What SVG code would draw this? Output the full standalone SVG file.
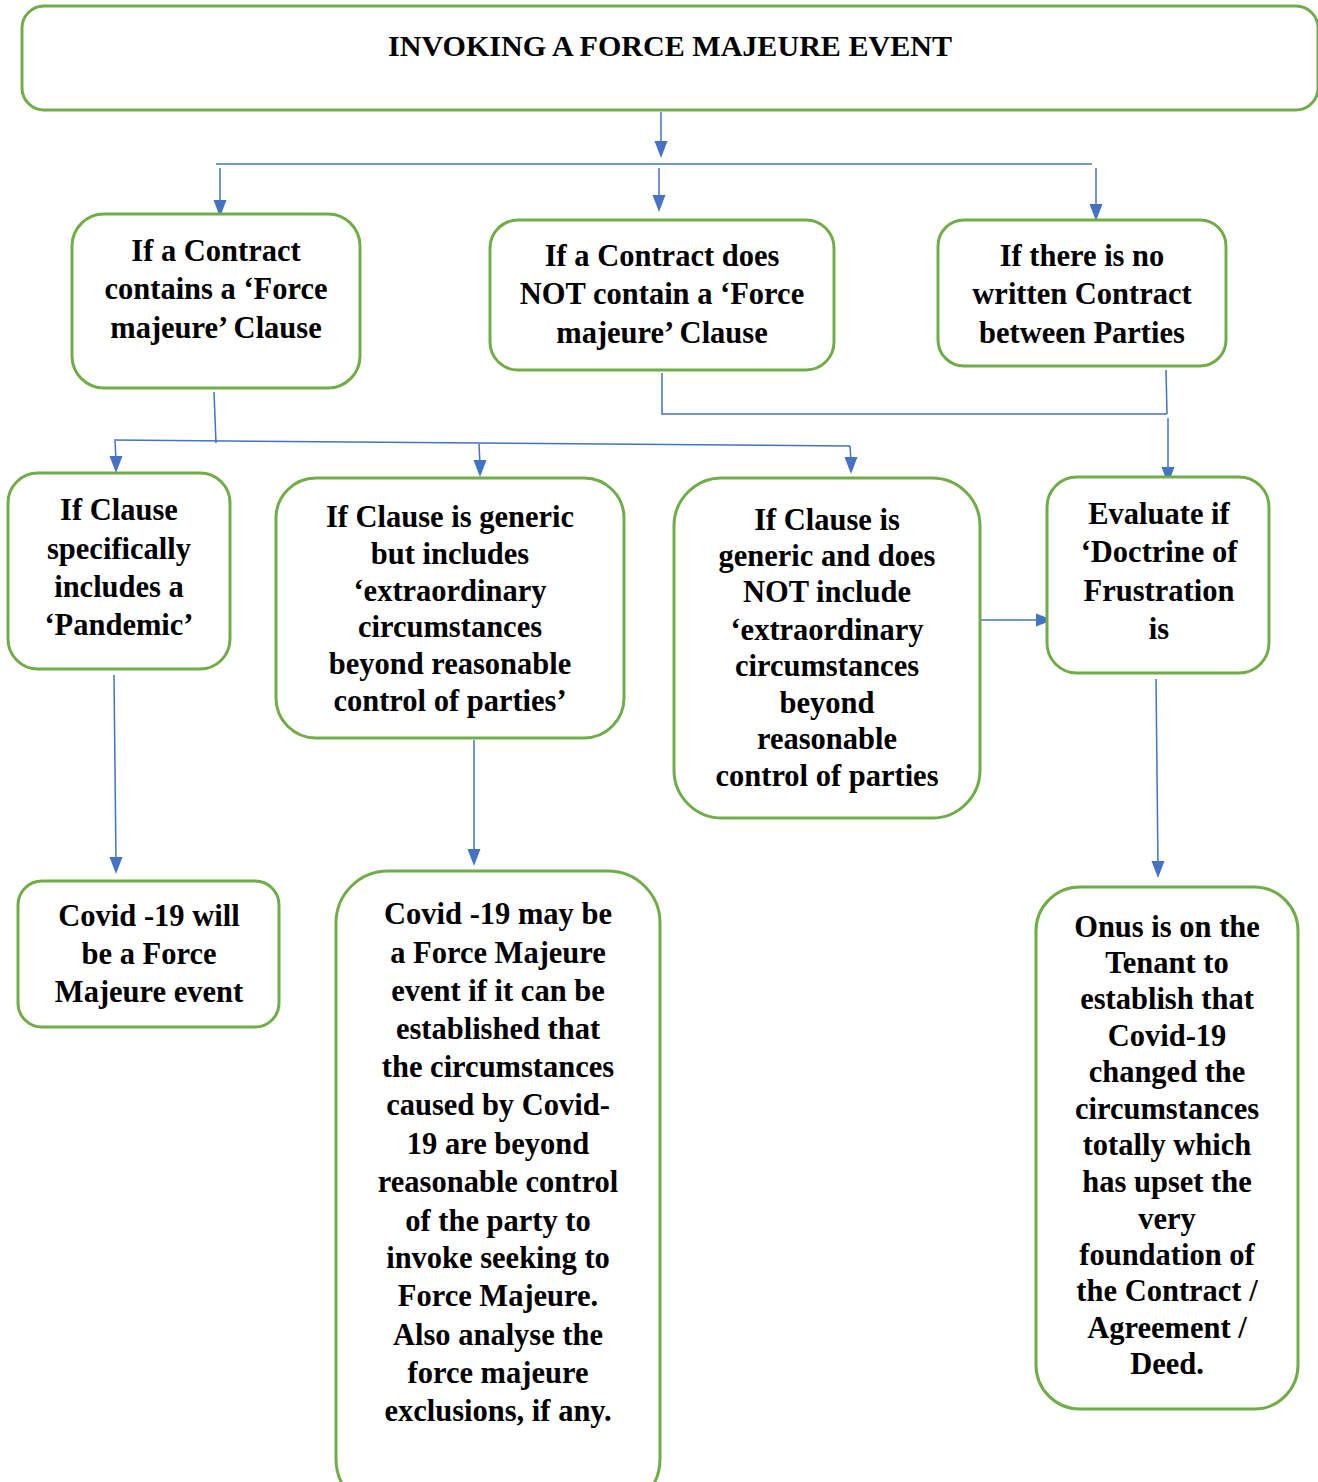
<svg xmlns="http://www.w3.org/2000/svg" xmlns:xlink="http://www.w3.org/1999/xlink" width="1318" height="1482" viewBox="0 0 1318 1482">
<defs>
<path id="hd" d="M-6.5,-17 L6.5,-17 L0,0 Z" fill="#4472C4"/>
<style>
.box{fill:#fff;stroke:#70AD47;stroke-width:3}
.t{font-family:"Liberation Serif","Times New Roman",serif;font-weight:bold;font-size:30.5px;fill:#000;text-anchor:middle}
.c{fill:none;stroke:#4472C4;stroke-width:1.5}
</style>
</defs>
<rect width="1318" height="1482" fill="#fff"/>
<g id="connectors">
<path class="c" d="M661,112 L661,145"/>
<path class="c" d="M216,164 L1092,164"/>
<path class="c" d="M220,168 L220,205"/>
<path class="c" d="M659,168 L659,200"/>
<path class="c" d="M1096,168 L1096,210"/>
<path class="c" d="M214,392 L216,443"/>
<path class="c" d="M114,440 L850,446"/>
<path class="c" d="M115,441 L116,460"/>
<path class="c" d="M479,444 L480,465"/>
<path class="c" d="M850,446 L851,462"/>
<path class="c" d="M662,373 L662,414 L1167,414"/>
<path class="c" d="M1166,370 L1167,414"/>
<path class="c" d="M1168,418 L1168,472"/>
<path class="c" d="M980,620 L1040,620"/>
<path class="c" d="M114,675 L116,862"/>
<path class="c" d="M474,740 L474,854"/>
<path class="c" d="M1156,679 L1158,866"/>
<use xlink:href="#hd" x="661" y="158"/>
<use xlink:href="#hd" x="220" y="217"/>
<use xlink:href="#hd" x="659" y="212"/>
<use xlink:href="#hd" x="1096" y="221"/>
<use xlink:href="#hd" x="116" y="473"/>
<use xlink:href="#hd" x="480" y="477"/>
<use xlink:href="#hd" x="851" y="474"/>
<use xlink:href="#hd" x="1168" y="484"/>
<use xlink:href="#hd" transform="translate(1053,620) rotate(-90)"/>
<use xlink:href="#hd" x="116" y="874"/>
<use xlink:href="#hd" x="474" y="866"/>
<use xlink:href="#hd" x="1158" y="878"/>
</g>
<g id="title">
<rect class="box" x="22" y="6" width="1296" height="104" rx="22"/>
<text class="t" x="670" y="56" style="font-size:30px" textLength="564" lengthAdjust="spacingAndGlyphs">INVOKING A FORCE MAJEURE EVENT</text>
</g>
<g id="n-contains">
<rect class="box" x="72" y="214" width="288" height="174" rx="32"/>
<text class="t" x="216" y="261">If a Contract</text>
<text class="t" x="216" y="299">contains a ‘Force</text>
<text class="t" x="216" y="338">majeure’ Clause</text>
</g>
<g id="n-not-contain">
<rect class="box" x="490" y="220" width="344" height="150" rx="28"/>
<text class="t" x="662" y="266">If a Contract does</text>
<text class="t" x="662" y="304">NOT contain a ‘Force</text>
<text class="t" x="662" y="343">majeure’ Clause</text>
</g>
<g id="n-no-contract">
<rect class="box" x="938" y="220" width="288" height="146" rx="26"/>
<text class="t" x="1082" y="266">If there is no</text>
<text class="t" x="1082" y="304">written Contract</text>
<text class="t" x="1082" y="343">between Parties</text>
</g>
<g id="n-pandemic">
<rect class="box" x="8" y="473" width="222" height="196" rx="30"/>
<text class="t" x="119" y="520">If Clause</text>
<text class="t" x="119" y="559">specifically</text>
<text class="t" x="119" y="597">includes a</text>
<text class="t" x="119" y="635">‘Pandemic’</text>
</g>
<g id="n-generic-includes">
<rect class="box" x="276" y="478" width="348" height="260" rx="40"/>
<text class="t" x="450" y="527">If Clause is generic</text>
<text class="t" x="450" y="564">but includes</text>
<text class="t" x="450" y="601">‘extraordinary</text>
<text class="t" x="450" y="637">circumstances</text>
<text class="t" x="450" y="674">beyond reasonable</text>
<text class="t" x="450" y="711">control of parties’</text>
</g>
<g id="n-generic-not">
<rect class="box" x="674" y="478" width="306" height="340" rx="48"/>
<text class="t" x="827" y="530">If Clause is</text>
<text class="t" x="827" y="566">generic and does</text>
<text class="t" x="827" y="602">NOT include</text>
<text class="t" x="827" y="640">‘extraordinary</text>
<text class="t" x="827" y="676">circumstances</text>
<text class="t" x="827" y="713">beyond</text>
<text class="t" x="827" y="749">reasonable</text>
<text class="t" x="827" y="786">control of parties</text>
</g>
<g id="n-frustration">
<rect class="box" x="1047" y="477" width="222" height="196" rx="30"/>
<text class="t" x="1159" y="524">Evaluate if</text>
<text class="t" x="1159" y="562">‘Doctrine of</text>
<text class="t" x="1159" y="601">Frustration</text>
<text class="t" x="1159" y="639">is</text>
</g>
<g id="n-will-be">
<rect class="box" x="18" y="881" width="261" height="146" rx="24"/>
<text class="t" x="149" y="926">Covid -19 will</text>
<text class="t" x="149" y="964">be a Force</text>
<text class="t" x="149" y="1002">Majeure event</text>
</g>
<g id="n-may-be">
<rect class="box" x="336" y="871" width="324" height="640" rx="52"/>
<text class="t" x="498" y="924">Covid -19 may be</text>
<text class="t" x="498" y="963">a Force Majeure</text>
<text class="t" x="498" y="1001">event if it can be</text>
<text class="t" x="498" y="1039">established that</text>
<text class="t" x="498" y="1077">the circumstances</text>
<text class="t" x="498" y="1115">caused by Covid-</text>
<text class="t" x="498" y="1154">19 are beyond</text>
<text class="t" x="498" y="1192">reasonable control</text>
<text class="t" x="498" y="1231">of the party to</text>
<text class="t" x="498" y="1268">invoke seeking to</text>
<text class="t" x="498" y="1306">Force Majeure.</text>
<text class="t" x="498" y="1345">Also analyse the</text>
<text class="t" x="498" y="1383">force majeure</text>
<text class="t" x="498" y="1421">exclusions, if any.</text>
</g>
<g id="n-onus">
<rect class="box" x="1036" y="887" width="262" height="522" rx="44"/>
<text class="t" x="1167" y="937">Onus is on the</text>
<text class="t" x="1167" y="973">Tenant to</text>
<text class="t" x="1167" y="1009">establish that</text>
<text class="t" x="1167" y="1046">Covid-19</text>
<text class="t" x="1167" y="1082">changed the</text>
<text class="t" x="1167" y="1119">circumstances</text>
<text class="t" x="1167" y="1155">totally which</text>
<text class="t" x="1167" y="1192">has upset the</text>
<text class="t" x="1167" y="1229">very</text>
<text class="t" x="1167" y="1265">foundation of</text>
<text class="t" x="1167" y="1301">the Contract /</text>
<text class="t" x="1167" y="1338">Agreement /</text>
<text class="t" x="1167" y="1374">Deed.</text>
</g>
</svg>
